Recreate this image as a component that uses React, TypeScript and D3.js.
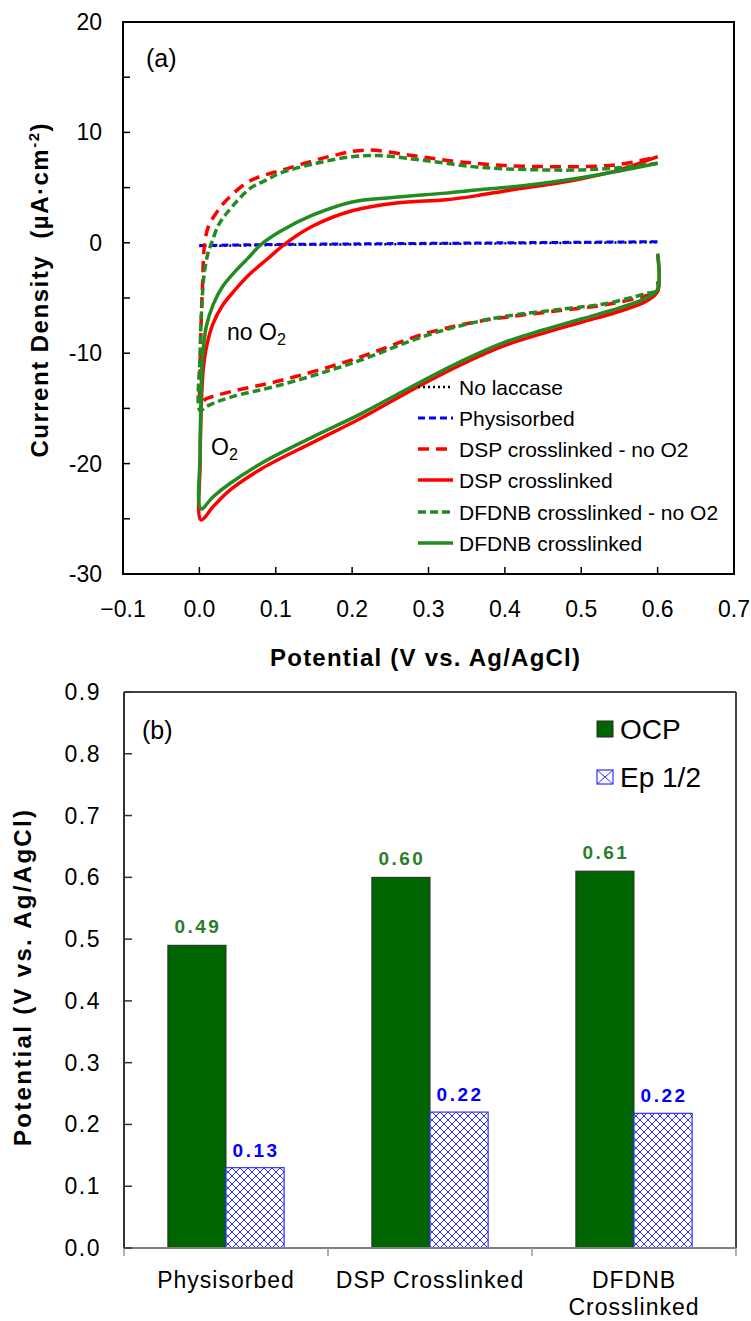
import React from "react";
import * as d3 from "d3";

// ---------- Panel (a) data: cyclic voltammograms [potential V, current µA/cm²] ----------
const noLaccase: [number, number][] = [
  [0, -0.3], [0.1, -0.2], [0.2, -0.15], [0.3, -0.1], [0.4, -0.05], [0.5, 0], [0.6, 0.05],
];
const physisorbed: [number, number][] = [
  [0, -0.25], [0.1, -0.15], [0.2, -0.1], [0.3, -0.05], [0.4, 0], [0.5, 0.05], [0.6, 0.1],
];
const dspNoO2: [number, number][] = [
  [0.6, -3.5], [0.6, -4.4], [0.585, -4.8], [0.533, -5.6], [0.476, -6.1], [0.406, -6.7], [0.367, -7.1],
  [0.297, -8.2], [0.2, -10.6], [0.105, -12.5], [0.04, -13.5], [0.01, -14.1], [0.002, -14.4],
  [0.001, -12], [0.002, -8], [0.004, -4], [0.007, 0], [0.012, 1.5], [0.023, 2.8], [0.036, 3.9],
  [0.066, 5.6], [0.114, 6.7], [0.175, 7.9], [0.218, 8.4], [0.279, 7.9], [0.331, 7.4], [0.363, 7.2],
  [0.4, 7.0], [0.45, 6.9], [0.5, 6.9], [0.55, 7.1], [0.6, 7.8],
];
const dsp: [number, number][] = [
  [0.6, -1], [0.6, -4.4], [0.585, -5.3], [0.55, -6.2], [0.5, -7.2], [0.45, -8.2], [0.4, -9.3],
  [0.344, -11.0], [0.279, -13.3], [0.214, -15.8], [0.148, -18.1], [0.083, -20.4], [0.04, -22.4],
  [0.018, -23.9], [0.002, -25.1],
  [0.001, -20], [0.002, -16], [0.005, -11.5], [0.01, -9.2], [0.018, -7.3], [0.03, -5.7],
  [0.045, -4.4], [0.065, -2.9], [0.09, -1.4], [0.114, 0], [0.148, 1.5], [0.2, 2.9], [0.258, 3.6],
  [0.323, 3.9], [0.366, 4.3], [0.4, 4.7], [0.45, 5.2], [0.5, 5.8], [0.55, 6.6], [0.6, 7.8],
];
const dfdnbNoO2: [number, number][] = [
  [0.6, -3.5], [0.6, -4.3], [0.585, -4.6], [0.533, -5.5], [0.476, -6.0], [0.406, -6.6], [0.367, -7.1],
  [0.297, -8.4], [0.2, -10.9], [0.105, -12.9], [0.04, -14.0], [0.01, -14.8], [0.001, -15.2],
  [0.001, -10], [0.003, -6], [0.006, -3], [0.011, -1], [0.016, 0], [0.025, 1.6], [0.036, 2.7],
  [0.066, 4.9], [0.088, 5.7], [0.105, 6.3], [0.153, 7.2], [0.2, 7.8], [0.236, 7.9], [0.301, 7.4],
  [0.358, 6.9], [0.4, 6.7], [0.45, 6.6], [0.5, 6.6], [0.55, 6.8], [0.6, 7.2],
];
const dfdnb: [number, number][] = [
  [0.6, -1], [0.6, -4.2], [0.585, -5.0], [0.55, -5.9], [0.5, -6.9], [0.45, -7.9], [0.4, -9.0],
  [0.344, -10.7], [0.279, -13.0], [0.214, -15.4], [0.148, -17.6], [0.083, -19.9], [0.04, -21.8],
  [0.018, -23], [0.002, -24.1],
  [0.001, -19], [0.002, -14.5], [0.004, -10.5], [0.009, -7.6], [0.018, -5.6], [0.03, -4.0],
  [0.048, -2.5], [0.065, -1.3], [0.08, -0.2], [0.105, 1.0], [0.148, 2.5], [0.2, 3.7], [0.253, 4.1],
  [0.323, 4.5], [0.366, 4.8], [0.4, 5.0], [0.45, 5.4], [0.5, 5.9], [0.55, 6.5], [0.6, 7.2],
];

const seriesNames = [
  "No laccase",
  "Physisorbed",
  "DSP crosslinked - no O2",
  "DSP crosslinked",
  "DFDNB crosslinked - no O2",
  "DFDNB crosslinked",
];
const seriesData = [noLaccase, physisorbed, dspNoO2, dsp, dfdnbNoO2, dfdnb];

const xTicksA = [-0.1, 0, 0.1, 0.2, 0.3, 0.4, 0.5, 0.6, 0.7];
const yTicksA = [-30, -25, -20, -15, -10, -5, 0, 5, 10, 15, 20];

// ---------- Panel (b) data ----------
const categories = ["Physisorbed", "DSP Crosslinked", "DFDNB Crosslinked"];
const categoryLines = [["Physisorbed"], ["DSP Crosslinked"], ["DFDNB", "Crosslinked"]];
const ocpValues = [0.49, 0.6, 0.61];
const epValues = [0.13, 0.22, 0.218];
const barSeries = ["OCP", "Ep 1/2"];
const yTicksB = [0, 0.1, 0.2, 0.3, 0.4, 0.5, 0.6, 0.7, 0.8, 0.9];

const FONT = "'Liberation Sans', Arial, sans-serif";

const styles = [
  { stroke: "#000000", width: 2.5, dash: "2,3" },
  { stroke: "#0000ff", width: 3, dash: "7,4" },
  { stroke: "#ff0000", width: 3.5, dash: "11,7" },
  { stroke: "#ff0000", width: 3.5, dash: "" },
  { stroke: "#228b22", width: 3.5, dash: "8,4" },
  { stroke: "#228b22", width: 3.5, dash: "" },
];

export default function App() {
  // Panel (a) scales
  const xA = d3.scaleLinear().domain([-0.1, 0.7]).range([123, 734]);
  const yA = d3.scaleLinear().domain([-30, 20]).range([574, 22]);
  const line = d3
    .line<[number, number]>()
    .x((d) => xA(d[0]))
    .y((d) => yA(d[1]))
    .curve(d3.curveCatmullRom.alpha(0.5));
  const fmt1 = d3.format(".1f");

  // Panel (b) scales
  const xB = d3
    .scaleBand<string>()
    .domain(categories)
    .range([124, 736])
    .paddingInner(0.43)
    .paddingOuter(0.215);
  const xInner = d3.scaleBand<string>().domain(barSeries).range([0, xB.bandwidth()]);
  const yB = d3.scaleLinear().domain([0, 0.9]).range([1248, 692]);
  const step = xB.step();
  const boundaries = [0, 1, 2, 3].map((i) => 124 + i * step);
  const fmt2 = d3.format(".2f");

  const legendY = [387, 418, 449, 480, 512, 543];

  return (
    <svg
      width={751}
      height={1321}
      style={{ position: "absolute", left: 0, top: 0, display: "block", background: "#fff" }}
      fontFamily={FONT}
    >
      <defs>
        <pattern id="xhatch" width="8" height="8" patternUnits="userSpaceOnUse">
          <rect width="8" height="8" fill="#ffffff" />
          <path d="M0,0 L8,8 M8,0 L0,8" stroke="#2f2fff" strokeWidth="1" />
        </pattern>
        <clipPath id="clipA">
          <rect x={123} y={22} width={611} height={552} />
        </clipPath>
      </defs>

      {/* ================= Panel (a) ================= */}
      <g>
        <g clipPath="url(#clipA)">
          {seriesData.map((d, i) => (
            <path
              key={seriesNames[i]}
              d={line(d) || ""}
              fill="none"
              stroke={styles[i].stroke}
              strokeWidth={styles[i].width}
              strokeDasharray={styles[i].dash || undefined}
              strokeLinejoin="round"
            />
          ))}
        </g>
        <rect x={123} y={22} width={611} height={552} fill="none" stroke="#000" strokeWidth={2} />
        {xTicksA.map((t) => (
          <g key={"xa" + t}>
            <line x1={xA(t)} x2={xA(t)} y1={574} y2={567} stroke="#000" strokeWidth={1.5} />
            <text x={xA(t)} y={617} textAnchor="middle" fontSize={23} fill="#000">
              {fmt1(t)}
            </text>
          </g>
        ))}
        {yTicksA.map((t) => (
          <g key={"ya" + t}>
            <line x1={123} x2={130} y1={yA(t)} y2={yA(t)} stroke="#000" strokeWidth={1.5} />
            {t % 10 === 0 && (
              <text x={102} y={yA(t) + 8} textAnchor="end" fontSize={23} fill="#000">
                {t}
              </text>
            )}
          </g>
        ))}
        <text
          x={425}
          y={666}
          textAnchor="middle"
          fontSize={24}
          fontWeight="bold"
          textLength={310}
          lengthAdjust="spacing"
        >
          Potential (V vs. Ag/AgCl)
        </text>
        <text
          transform="translate(48,122) rotate(-90)"
          textAnchor="end"
          fontSize={24}
          fontWeight="bold"
          letterSpacing={1.5}
          style={{ whiteSpace: "pre" }}
        >
          Current Density  (µA·cm
          <tspan fontSize={15} dy={-9}>-2</tspan>
          <tspan dy={9}>)</tspan>
        </text>
        <text x={146} y={67} fontSize={25}>(a)</text>
        <text x={227} y={340} fontSize={23}>
          no O<tspan fontSize={16} dy={5}>2</tspan>
        </text>
        <text x={211} y={455} fontSize={23}>
          O<tspan fontSize={16} dy={5}>2</tspan>
        </text>
        {seriesNames.map((name, i) => (
          <g key={"lg" + name}>
            <line
              x1={418}
              x2={453}
              y1={legendY[i]}
              y2={legendY[i]}
              stroke={styles[i].stroke}
              strokeWidth={styles[i].width}
              strokeDasharray={styles[i].dash || undefined}
            />
            <text x={459} y={legendY[i] + 7.5} fontSize={21} fill="#000">
              {name}
            </text>
          </g>
        ))}
      </g>

      {/* ================= Panel (b) ================= */}
      <g>
        {categories.map((c, ci) => {
          const x0 = xB(c) as number;
          const xo = x0 + (xInner("OCP") as number);
          const xe = x0 + (xInner("Ep 1/2") as number);
          const bw = xInner.bandwidth();
          return (
            <g key={"bar" + c}>
              <rect
                x={xo}
                y={yB(ocpValues[ci])}
                width={bw}
                height={yB(0) - yB(ocpValues[ci])}
                fill="#006400"
                stroke="#2b2b2b"
                strokeWidth={1}
              />
              <rect
                x={xe}
                y={yB(epValues[ci])}
                width={bw}
                height={yB(0) - yB(epValues[ci])}
                fill="url(#xhatch)"
                stroke="#2f2fff"
                strokeWidth={1.2}
              />
              <text
                x={xo + bw / 2 + 1}
                y={yB(ocpValues[ci]) - 12}
                textAnchor="middle"
                fontSize={19}
                fontWeight="bold"
                letterSpacing={2.5}
                fill="#2a7d2a"
              >
                {fmt2(ocpValues[ci])}
              </text>
              <text
                x={xe + bw / 2 + 1}
                y={yB(epValues[ci]) - 11}
                textAnchor="middle"
                fontSize={19}
                fontWeight="bold"
                letterSpacing={2.5}
                fill="#0000ff"
              >
                {fmt2(epValues[ci])}
              </text>
            </g>
          );
        })}
        <line x1={124} x2={736} y1={692} y2={692} stroke="#444" strokeWidth={2} />
        <line x1={736} x2={736} y1={692} y2={1248} stroke="#444" strokeWidth={2} />
        <line x1={124} x2={124} y1={692} y2={1248} stroke="#333" strokeWidth={2} />
        <line x1={124} x2={736} y1={1248} y2={1248} stroke="#808080" strokeWidth={2} />
        {boundaries.map((b, i) => (
          <line key={"cb" + i} x1={b} x2={b} y1={1248} y2={1256} stroke="#999" strokeWidth={1.5} />
        ))}
        {yTicksB.map((t) => (
          <g key={"yb" + t}>
            <line x1={124} x2={132} y1={yB(t)} y2={yB(t)} stroke="#333" strokeWidth={1.5} />
            <text x={101} y={yB(t) + 8} textAnchor="end" fontSize={23} letterSpacing={1.5} fill="#000">
              {fmt1(t)}
            </text>
          </g>
        ))}
        {categories.map((c, ci) => (
          <text
            key={"cl" + c}
            x={(xB(c) as number) + xB.bandwidth() / 2}
            y={1288}
            textAnchor="middle"
            fontSize={23}
            letterSpacing={1}
            fill="#000"
          >
            {categoryLines[ci].map((l, li) => (
              <tspan key={l} x={(xB(c) as number) + xB.bandwidth() / 2} dy={li === 0 ? 0 : 27}>
                {l}
              </tspan>
            ))}
          </text>
        ))}
        <text
          transform="translate(31,978) rotate(-90)"
          textAnchor="middle"
          fontSize={24}
          fontWeight="bold"
          textLength={336}
          lengthAdjust="spacing"
        >
          Potential (V vs. Ag/AgCl)
        </text>
        <text x={142} y={739} fontSize={25}>(b)</text>
        <rect x={597} y={721} width={16} height={16} fill="#006400" stroke="#2b2b2b" strokeWidth={1} />
        <text x={620} y={739} fontSize={28}>{barSeries[0]}</text>
        <rect x={597} y={770} width={16} height={14} fill="#fff" stroke="#2f2fff" strokeWidth={1.2} />
        <path d="M597,770 L613,784 M613,770 L597,784" stroke="#2f2fff" strokeWidth={1} />
        <text x={620} y={787} fontSize={28}>{barSeries[1]}</text>
      </g>
    </svg>
  );
}
